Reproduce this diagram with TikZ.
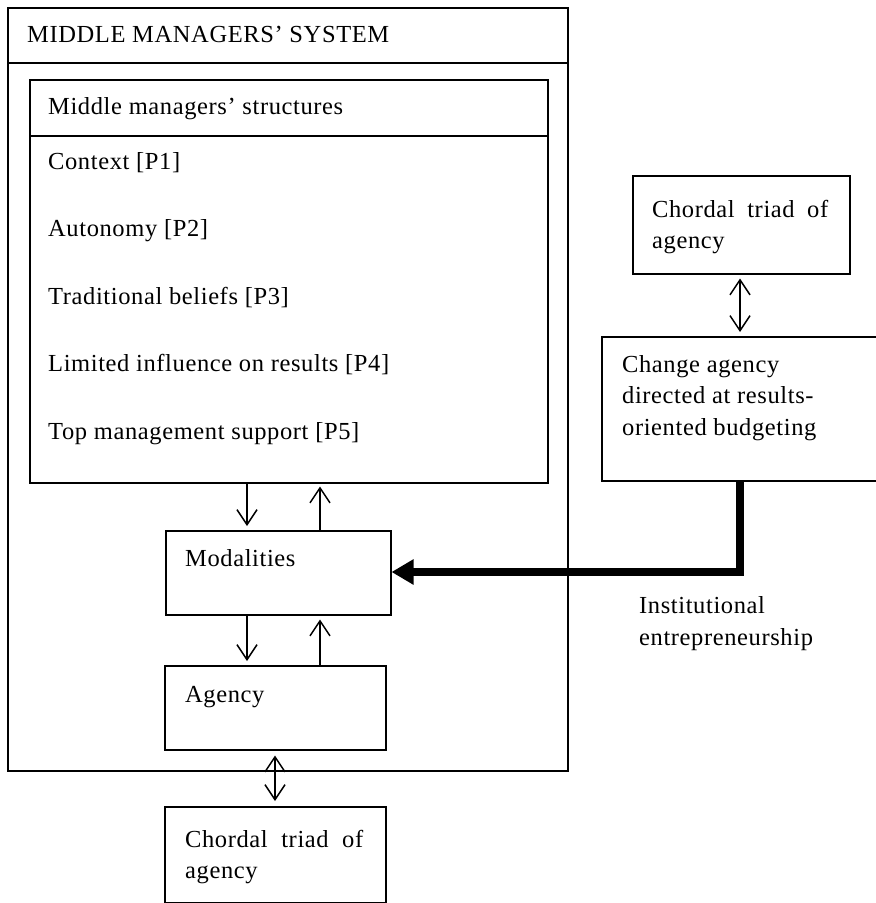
\documentclass[tikz,border=0pt]{standalone}
\usepackage{fontspec}
\setmainfont{Liberation Serif}[LetterSpace=2.5]
\usetikzlibrary{arrows.meta,calc}
\begin{document}
\begin{tikzpicture}[x=1pt,y=-1pt,
  box/.style={draw, line width=1.5pt, inner sep=0pt, anchor=north west},
  lbl/.style={anchor=base west, inner sep=0pt, font=\fontsize{24.5}{31}\selectfont},
  flow/.style={line width=1.5pt, -{Straight Barb[length=15pt,width=20pt]}},
  both/.style={line width=1.5pt, {Straight Barb[length=15pt,width=20pt]}-{Straight Barb[length=15pt,width=20pt]}},
  push/.style={line width=7.5pt, -{Triangle[length=22pt,width=24pt]}}]
\useasboundingbox (0,0) rectangle (876,903);

% system frame and its title bar
\node[box, minimum width=560pt, minimum height=763pt] (sys) at (7,7) {};
\draw[line width=2pt] (sys.west |- 0,63) -- (sys.east |- 0,63);
\node[lbl] (systitle) at (27,42) {MIDDLE MANAGERS' SYSTEM};

% structures box with its list of propositions
\node[box, minimum width=518pt, minimum height=403pt] (struct) at (29,79) {};
\draw[line width=1.5pt] (struct.west |- 0,136) -- (struct.east |- 0,136);
\node[lbl] (structtitle) at (48,114) {Middle managers' structures};
\node[lbl] (p1) at (48,169) {Context [P1]};
\node[lbl] (p2) at (48,236.5) {Autonomy [P2]};
\node[lbl] (p3) at (48,304) {Traditional beliefs [P3]};
\node[lbl] (p4) at (48,371.5) {Limited influence on results [P4]};
\node[lbl] (p5) at (48,439) {Top management support [P5]};

% modalities and agency
\node[box, minimum width=225pt, minimum height=84pt] (mod) at (165,530) {};
\node[lbl] (modtext) at (185,566) {Modalities};
\node[box, minimum width=221pt, minimum height=84pt] (agn) at (164,665) {};
\node[lbl] (agntext) at (185,702) {Agency};

% chordal triad below the system
\node[box, minimum width=221pt, minimum height=96pt] (chordB) at (164,806) {};
\node[lbl] (chordBa) at (185,847) {\makebox[178pt][s]{Chordal triad of}};
\node[lbl] (chordBb) at (185,878) {agency};

% chordal triad and change agency on the right
\node[box, minimum width=217pt, minimum height=98pt] (chordT) at (632,175) {};
\node[lbl] (chordTa) at (652,217) {\makebox[176pt][s]{Chordal triad of}};
\node[lbl] (chordTb) at (652,248) {agency};
\node[box, minimum width=277pt, minimum height=144pt] (chg) at (601,336) {};
\node[lbl] (chga) at (622,372) {Change agency};
\node[lbl] (chgb) at (622,403.5) {directed at results-};
\node[lbl] (chgc) at (622,435) {oriented budgeting};

\node[lbl] (inst1) at (639,613) {Institutional};
\node[lbl] (inst2) at (639,645) {entrepreneurship};

% x positions of the vertical connectors
\coordinate (xd) at (247,0);
\coordinate (xu) at (320,0);
\coordinate (xr) at (740,0);
\coordinate (xb) at (275,0);
\coordinate (turn) at (740,572);

% structures <-> modalities <-> agency
\draw[flow, shorten >=4pt] (xd |- struct.south) -- (xd |- mod.north);
\draw[flow, shorten >=3pt] (xu |- mod.north) -- (xu |- struct.south);
\draw[flow, shorten >=4pt] (xd |- mod.south) -- (xd |- agn.north);
\draw[flow, shorten >=4pt] (xu |- agn.north) -- (xu |- mod.south);

% agency <-> chordal triad, chordal triad <-> change agency
\draw[both, shorten <=5pt, shorten >=5pt] (xb |- agn.south) -- (xb |- chordB.north);
\draw[both, shorten <=4pt, shorten >=4pt] (xr |- chordT.south) -- (xr |- chg.north);

% institutional entrepreneurship
\draw[push, line join=miter] (xr |- chg.south) -- (turn) -- (mod.east |- turn);
\end{tikzpicture}
\end{document}
